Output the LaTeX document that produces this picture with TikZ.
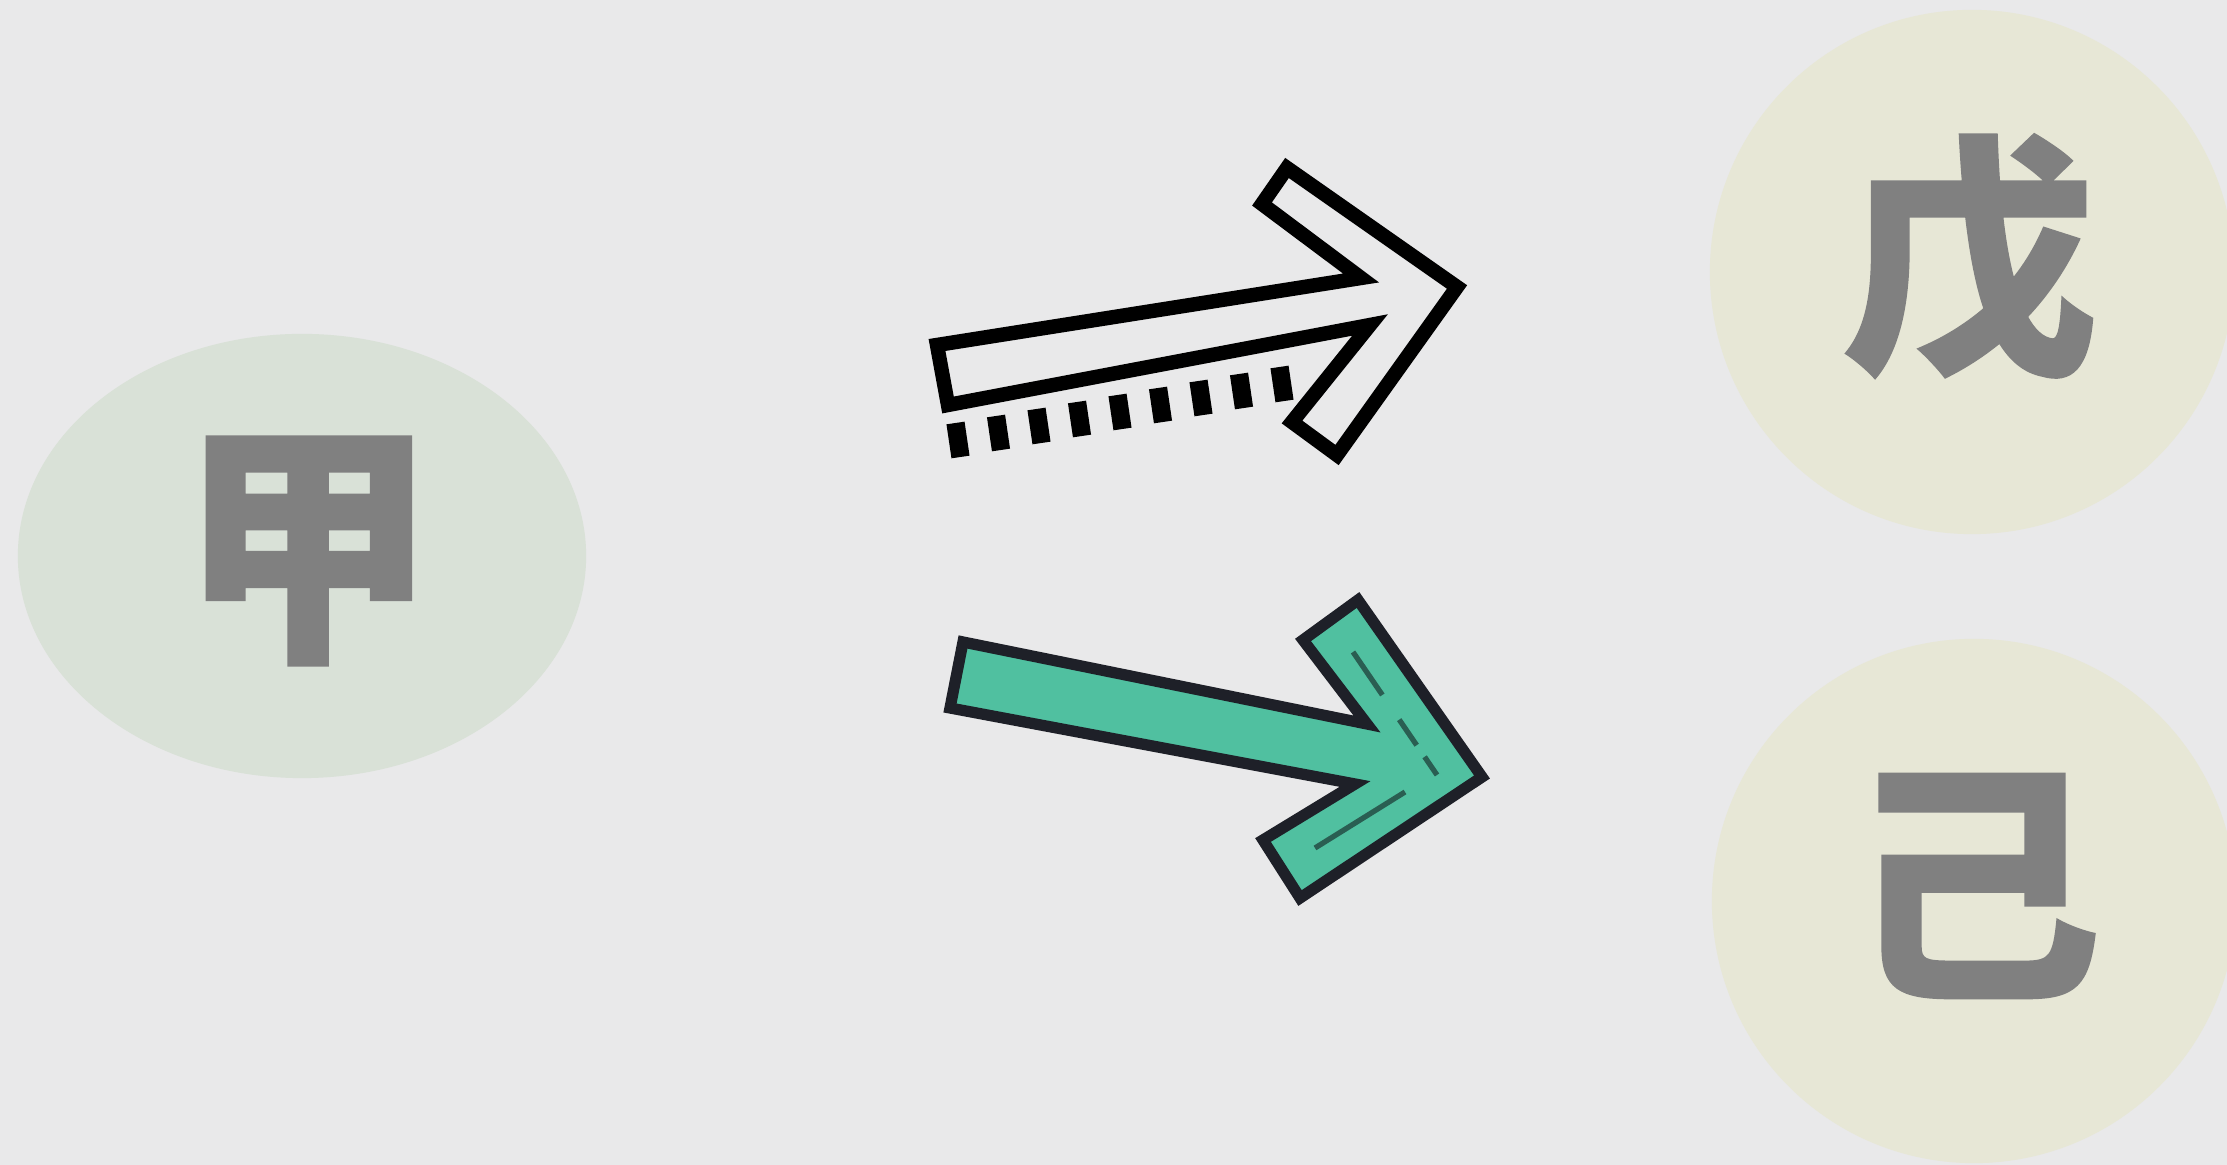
\documentclass[tikz,border=0pt]{standalone}
\usepackage{fontspec}
\newfontfamily\cjk{Noto Sans CJK SC}[FakeBold=0.6]
\usetikzlibrary{shapes.geometric}
\definecolor{paper}{RGB}{233,233,234}
\definecolor{jiafill}{RGB}{217,225,215}
\definecolor{wufill}{RGB}{231,231,214}
\definecolor{glyph}{RGB}{128,128,128}
\definecolor{teal}{RGB}{80,192,160}
\definecolor{ink}{RGB}{30,32,40}
\definecolor{darkteal}{RGB}{42,94,82}
\tikzset{
  zone/.style={draw=none, inner sep=0pt, outer sep=0pt},
  hanzi/.style={text=glyph, inner sep=0pt, font=\cjk\bfseries\fontsize{73}{73}\selectfont},
  outlinearrow/.style={draw=black, line width=4.1pt, line join=miter, fill=none},
  tick/.style={draw=black, line width=5.2pt, line cap=butt},
  greenarrow/.style={draw=ink, fill=teal, line width=3.2pt, line join=miter},
  hilite/.style={draw=darkteal, line width=1.5pt}
}
\begin{document}
\begin{tikzpicture}[x=0.01cm,y=-0.01cm]
\useasboundingbox (0,0) rectangle (2227,1165);
\fill[paper] (0,0) rectangle (2227,1165);

% nodes
\node[zone, ellipse, fill=jiafill, minimum width=5.68cm, minimum height=4.44cm] (cjia) at (302,556) {};
\node[hanzi] (jia) at (307,551) {甲};
\node[zone, circle, fill=wufill, minimum size=5.24cm] (cwu) at (1972,272) {};
\node[hanzi] (wu) at (1970,259) {戊};
\node[zone, circle, fill=wufill, minimum size=5.24cm] (cji) at (1974,901) {};
\node[hanzi] (ji) at (1974,886) {己};

% top outline arrow
\draw[outlinearrow] (937,345) -- (1361,278) -- (1262,204) -- (1287,168) -- (1457,287)
  -- (1337,455) -- (1292,422) -- (1370,325) -- (948,405) -- cycle;
\foreach \i in {0,...,8}{
  \draw[tick] ({958+\i*40.5-2.5}, {440-\i*7-17}) -- ({958+\i*40.5+2.5}, {440-\i*7+17});
}

% green arrow
\draw[greenarrow] (963,642) -- (1367,724) -- (1303,640) -- (1358,600) -- (1482,777)
  -- (1300,898) -- (1263,840) -- (1355,784) -- (950,708) -- cycle;
\draw[hilite, dash pattern=on 14.8pt off 8.5pt on 8.8pt off 4pt on 6.3pt off 20pt] (1353,652) -- (1437,775);
\draw[hilite] (1405,792) -- (1315,848);
\end{tikzpicture}
\end{document}
